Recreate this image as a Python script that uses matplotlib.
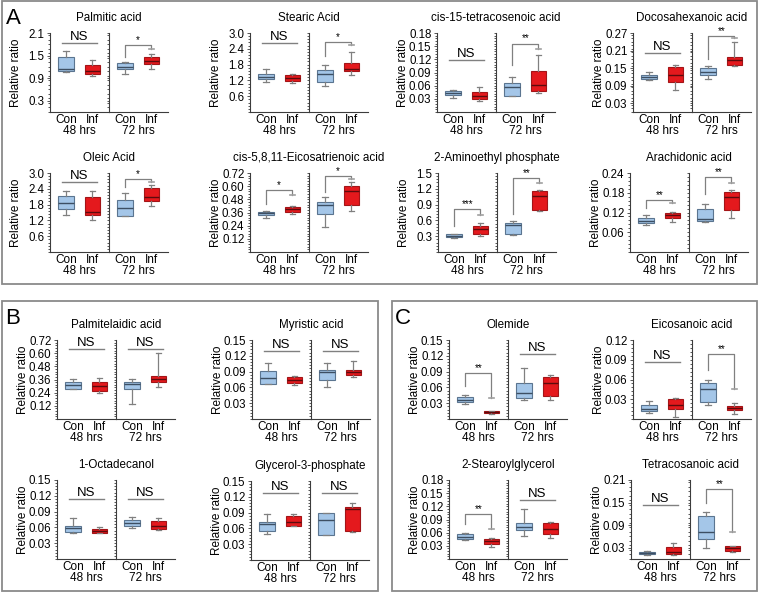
import matplotlib
matplotlib.use("Agg")
import matplotlib.pyplot as plt
from matplotlib.patches import Rectangle
from matplotlib.ticker import MultipleLocator

plt.rcParams["font.family"] = ["Liberation Sans", "DejaVu Sans"]

# ------------------------------------------------------------
# data: each box = [whisker low, Q1, median, Q3, whisker high]
# order: Con 48 hrs, Inf 48 hrs, Con 72 hrs, Inf 72 hrs
# ------------------------------------------------------------
palmitic = [[1.07, 1.10, 1.14, 1.45, 1.62], [0.95, 1.01, 1.10, 1.26, 1.38],
            [1.01, 1.13, 1.20, 1.29, 1.33], [1.14, 1.27, 1.36, 1.45, 1.55]]
stearic = [[1.15, 1.24, 1.34, 1.46, 1.65], [1.09, 1.19, 1.28, 1.40, 1.46],
           [1.00, 1.15, 1.46, 1.61, 1.77], [1.42, 1.55, 1.65, 1.86, 2.26]]
tetracosenoic = [[0.0315, 0.039, 0.0434, 0.0486, 0.051], [0.024, 0.029, 0.0375, 0.0456, 0.056],
                 [0.036, 0.036, 0.056, 0.067, 0.0805], [0.043, 0.048, 0.061, 0.093, 0.130]]
docosahexanoic = [[0.110, 0.112, 0.119, 0.126, 0.137], [0.074, 0.103, 0.126, 0.155, 0.160],
                  [0.113, 0.125, 0.137, 0.151, 0.157], [0.157, 0.160, 0.178, 0.188, 0.238]]
oleic = [[1.40, 1.63, 1.85, 2.13, 2.33], [1.21, 1.40, 1.52, 2.09, 2.30],
         [1.36, 1.36, 1.67, 1.97, 2.24], [1.73, 1.95, 2.09, 2.43, 2.55]]
eicosatrienoic = [[0.309, 0.333, 0.354, 0.369, 0.375], [0.348, 0.369, 0.390, 0.408, 0.420],
                  [0.228, 0.348, 0.429, 0.459, 0.498], [0.378, 0.429, 0.558, 0.603, 0.639]]
aminoethyl = [[0.27, 0.28, 0.31, 0.335, 0.34], [0.31, 0.35, 0.44, 0.49, 0.545],
              [0.33, 0.35, 0.51, 0.545, 0.58], [0.78, 0.79, 1.07, 1.15, 1.18]]
arachidonic = [[0.082, 0.087, 0.095, 0.102, 0.112], [0.090, 0.103, 0.112, 0.118, 0.122],
               [0.092, 0.093, 0.100, 0.130, 0.145], [0.103, 0.128, 0.168, 0.183, 0.187]]
palmitelaidic = [[0.270, 0.272, 0.308, 0.341, 0.368], [0.235, 0.256, 0.302, 0.341, 0.378],
                 [0.138, 0.272, 0.317, 0.341, 0.368], [0.290, 0.335, 0.365, 0.393, 0.599]]
myristic = [[0.0657, 0.067, 0.0787, 0.092, 0.1065], [0.064, 0.069, 0.074, 0.080, 0.082],
            [0.061, 0.074, 0.0884, 0.0936, 0.1065], [0.080, 0.083, 0.0897, 0.0936, 0.111]]
octadecanol = [[0.049, 0.0516, 0.058, 0.063, 0.0776], [0.049, 0.050, 0.0535, 0.0567, 0.060],
               [0.0586, 0.063, 0.068, 0.0745, 0.079], [0.0554, 0.0567, 0.063, 0.0725, 0.077]]
glycerol3p = [[0.0495, 0.056, 0.0676, 0.072, 0.087], [0.064, 0.0644, 0.072, 0.0838, 0.088],
              [0.0475, 0.0475, 0.0767, 0.0897, 0.090], [0.053, 0.056, 0.096, 0.101, 0.108]]
olemide = [[0.028, 0.033, 0.037, 0.042, 0.045], [0.010, 0.011, 0.013, 0.015, 0.016],
           [0.036, 0.040, 0.049, 0.069, 0.097], [0.036, 0.043, 0.068, 0.079, 0.083]]
eicosanoic = [[0.0094, 0.012, 0.0156, 0.0209, 0.0266], [0.003, 0.0156, 0.021, 0.030, 0.0318],
              [0.021, 0.026, 0.046, 0.0553, 0.060], [0.0078, 0.0136, 0.0172, 0.0198, 0.025]]
stearoylglycerol = [[0.044, 0.046, 0.0505, 0.0575, 0.060], [0.027, 0.035, 0.042, 0.046, 0.048],
                    [0.052, 0.065, 0.073, 0.083, 0.114], [0.047, 0.0575, 0.069, 0.081, 0.085]]
tetracosanoic = [[0.011, 0.013, 0.0166, 0.0193, 0.021], [0.010, 0.012, 0.019, 0.033, 0.043],
                 [0.028, 0.053, 0.073, 0.113, 0.125], [0.019, 0.021, 0.028, 0.0345, 0.035]]

# significance marks per time point: ("NS", line y) or (stars, left leg y, top y, right leg y)
sig_palmitic = [("NS", 1.84), ("*", 1.45, 1.77, 1.67)]
sig_stearic = [("NS", 2.63), ("*", 2.14, 2.67, 2.54)]
sig_tetracosenoic = [("NS", 0.118), ("**", 0.106, 0.156, 0.144)]
sig_docosahexanoic = [("NS", 0.20), ("**", 0.18, 0.261, 0.253)]
sig_oleic = [("NS", 2.64), ("*", 2.48, 2.78, 2.67)]
sig_eicosatrienoic = [("*", 0.44, 0.564, 0.52), ("*", 0.549, 0.693, 0.669)]
sig_aminoethyl = [("***", 0.49, 0.81, 0.70), ("**", 0.72, 1.40, 1.31)]
sig_arachidonic = [("**", 0.135, 0.157, 0.150), ("**", 0.175, 0.227, 0.210)]
sig_palmitelaidic = [("NS", 0.638), ("NS", 0.638)]
sig_myristic = [("NS", 0.129), ("NS", 0.129)]
sig_octadecanol = [("NS", 0.114), ("NS", 0.114)]
sig_glycerol3p = [("NS", 0.127), ("NS", 0.127)]
sig_olemide = [("**", 0.062, 0.088, 0.040), ("NS", 0.123)]
sig_eicosanoic = [("NS", 0.086), ("**", 0.0746, 0.098, 0.046)]
sig_stearoylglycerol = [("**", 0.079, 0.1025, 0.0676), ("NS", 0.135)]
sig_tetracosanoic = [("NS", 0.143), ("**", 0.149, 0.185, 0.071)]

# y tick labels per chart
ticks_palmitic = ["0.3", "0.9", "1.5", "2.1"]
ticks_stearic = ["0.6", "1.2", "1.8", "2.4", "3.0"]
ticks_tetracosenoic = ["0.03", "0.06", "0.09", "0.12", "0.15", "0.18"]
ticks_docosahexanoic = ["0.03", "0.09", "0.15", "0.21", "0.27"]
ticks_oleic = ["0.6", "1.2", "1.8", "2.4", "3.0"]
ticks_eicosatrienoic = ["0.12", "0.24", "0.36", "0.48", "0.60", "0.72"]
ticks_aminoethyl = ["0.3", "0.6", "0.9", "1.2", "1.5"]
ticks_arachidonic = ["0.06", "0.12", "0.18", "0.24"]
ticks_palmitelaidic = ["0.12", "0.24", "0.36", "0.48", "0.60", "0.72"]
ticks_003_015 = ["0.03", "0.06", "0.09", "0.12", "0.15"]
ticks_eicosanoic = ["0.03", "0.06", "0.09", "0.12"]
ticks_stearoylglycerol = ["0.03", "0.06", "0.09", "0.12", "0.15", "0.18"]
ticks_tetracosanoic = ["0.03", "0.09", "0.15", "0.21"]

groups = ["Con", "Inf"]
times = ["48 hrs", "72 hrs"]

charts = [
    # title, boxes, sig, ticks, left px, top px
    ("Palmitic acid", palmitic, sig_palmitic, ticks_palmitic, 50, 33),
    ("Stearic Acid", stearic, sig_stearic, ticks_stearic, 250, 33),
    ("cis-15-tetracosenoic acid", tetracosenoic, sig_tetracosenoic, ticks_tetracosenoic, 437, 33),
    ("Docosahexanoic acid", docosahexanoic, sig_docosahexanoic, ticks_docosahexanoic, 633, 33),
    ("Oleic Acid", oleic, sig_oleic, ticks_oleic, 50, 173),
    ("cis-5,8,11-Eicosatrienoic acid", eicosatrienoic, sig_eicosatrienoic, ticks_eicosatrienoic, 250, 173),
    ("2-Aminoethyl phosphate", aminoethyl, sig_aminoethyl, ticks_aminoethyl, 438, 173),
    ("Arachidonic acid", arachidonic, sig_arachidonic, ticks_arachidonic, 630, 173),
    ("Palmitelaidic acid", palmitelaidic, sig_palmitelaidic, ticks_palmitelaidic, 57, 340),
    ("Myristic acid", myristic, sig_myristic, ticks_003_015, 252, 340),
    ("1-Octadecanol", octadecanol, sig_octadecanol, ticks_003_015, 57, 480),
    ("Glycerol-3-phosphate", glycerol3p, sig_glycerol3p, ticks_003_015, 251, 481),
    ("Olemide", olemide, sig_olemide, ticks_003_015, 449, 340),
    ("Eicosanoic acid", eicosanoic, sig_eicosanoic, ticks_eicosanoic, 633, 340),
    ("2-Stearoylglycerol", stearoylglycerol, sig_stearoylglycerol, ticks_stearoylglycerol, 449, 480),
    ("Tetracosanoic acid", tetracosanoic, sig_tetracosanoic, ticks_tetracosanoic, 631, 480),
]

W, H = 760, 595
HALF_W, AX_H = 59, 79
POS = [0.27, 0.72]
AXIS_COL = "#3c3c3c"
LINE_GREY = "#808080"
CON_FACE, CON_EDGE, CON_MED = "#a4c6e8", "#5b7590", "#3d4f63"
INF_FACE, INF_EDGE, INF_MED = "#e4191d", "#a31518", "#5c0b0d"

fig = plt.figure(figsize=(W / 100, H / 100), dpi=100)


def px_axes(left, top, width, height):
    return fig.add_axes([left / W, 1 - (top + height) / H, width / W, height / H])


def draw_sig(ax, sig):
    if sig[0] == "NS":
        y = sig[1]
        ax.plot([0.2, 0.8], [y, y], color=LINE_GREY, lw=1.0, clip_on=False)
        ax.text(0.5, y, "NS", ha="center", va="bottom", fontsize=9.5, clip_on=False)
    else:
        stars, yl, yt, yr = sig
        xl, xr = POS
        ax.plot([xl, xl, xr, xr], [yl, yt, yt, yr], color=LINE_GREY, lw=0.9, clip_on=False)
        ax.plot([xr - 0.04, xr + 0.04], [yr, yr], color="#a0a0a0", lw=1.2, clip_on=False)
        ax.text((xl + xr) / 2, yt, stars, ha="center", va="bottom", fontsize=7, clip_on=False)


for title, boxes, sig, tick_labels, left, top in charts:
    tick_vals = [float(t) for t in tick_labels]
    step = tick_vals[1] - tick_vals[0]
    ymax = tick_vals[-1]
    axes = [px_axes(left, top, HALF_W, AX_H), px_axes(left + HALF_W, top, HALF_W, AX_H)]
    for k, ax in enumerate(axes):
        pair = boxes[2 * k:2 * k + 2]
        stats = [dict(whislo=b[0], q1=b[1], med=b[2], q3=b[3], whishi=b[4], fliers=[]) for b in pair]
        bp = ax.bxp(stats, positions=POS, widths=0.27, patch_artist=True, showfliers=False,
                    manage_ticks=False, capwidths=0.1)
        for i, (face, edge, med) in enumerate([(CON_FACE, CON_EDGE, CON_MED), (INF_FACE, INF_EDGE, INF_MED)]):
            bp["boxes"][i].set_facecolor(face)
            bp["boxes"][i].set_edgecolor(edge)
            bp["boxes"][i].set_linewidth(0.8)
            bp["medians"][i].set_color(med)
            bp["medians"][i].set_linewidth(1.0)
            for ln in bp["whiskers"][2 * i:2 * i + 2] + bp["caps"][2 * i:2 * i + 2]:
                ln.set_color(LINE_GREY)
                ln.set_linewidth(0.9)
        draw_sig(ax, sig[k])

        ax.set_xlim(0, 1)
        ax.set_ylim(0, ymax)
        ax.set_facecolor("none")
        for s in ["top", "right"]:
            ax.spines[s].set_visible(False)
        for s in ["left", "bottom"]:
            ax.spines[s].set_color(AXIS_COL)
            ax.spines[s].set_linewidth(0.8)
        ax.set_yticks(tick_vals)
        ax.yaxis.set_minor_locator(MultipleLocator(step / 5))
        ax.tick_params(axis="y", which="both", direction="out", color=AXIS_COL, width=0.6)
        ax.tick_params(axis="y", which="minor", length=1.4)
        ax.set_xticks(POS, groups)
        ax.tick_params(axis="x", length=0, pad=1.5, labelsize=8.5)
        ax.set_xlabel(times[k], fontsize=8.5)
        ax.xaxis.set_label_coords(0.5, -0.17)
        if k == 0:
            ax.set_yticklabels(tick_labels)
            ax.tick_params(axis="y", which="major", length=2.5, labelsize=8.3, pad=1.5)
            ax.set_ylabel("Relative ratio", fontsize=8.5)
            ax.yaxis.set_label_coords(-0.47, 0.5)
        else:
            ax.set_yticklabels([])
            ax.tick_params(axis="y", which="major", length=1.4)
    fig.text((left + HALF_W) / W, 1 - (top - 15) / H, title, ha="center", va="center", fontsize=8.4)

# panel frames and letters
for x0, y0, x1, y1, letter in [(2, 1, 757, 284, "A"), (2, 301, 378, 591, "B"), (392, 301, 757, 591, "C")]:
    fig.add_artist(Rectangle((x0 / W, 1 - y1 / H), (x1 - x0) / W, (y1 - y0) / H,
                             transform=fig.transFigure, fill=False, ec="#8a8a8a", lw=1.3))
    fig.text((x0 + 11) / W, 1 - (y0 + 18) / H, letter, ha="center", va="center", fontsize=16)

fig.savefig("out.png", dpi=100)
